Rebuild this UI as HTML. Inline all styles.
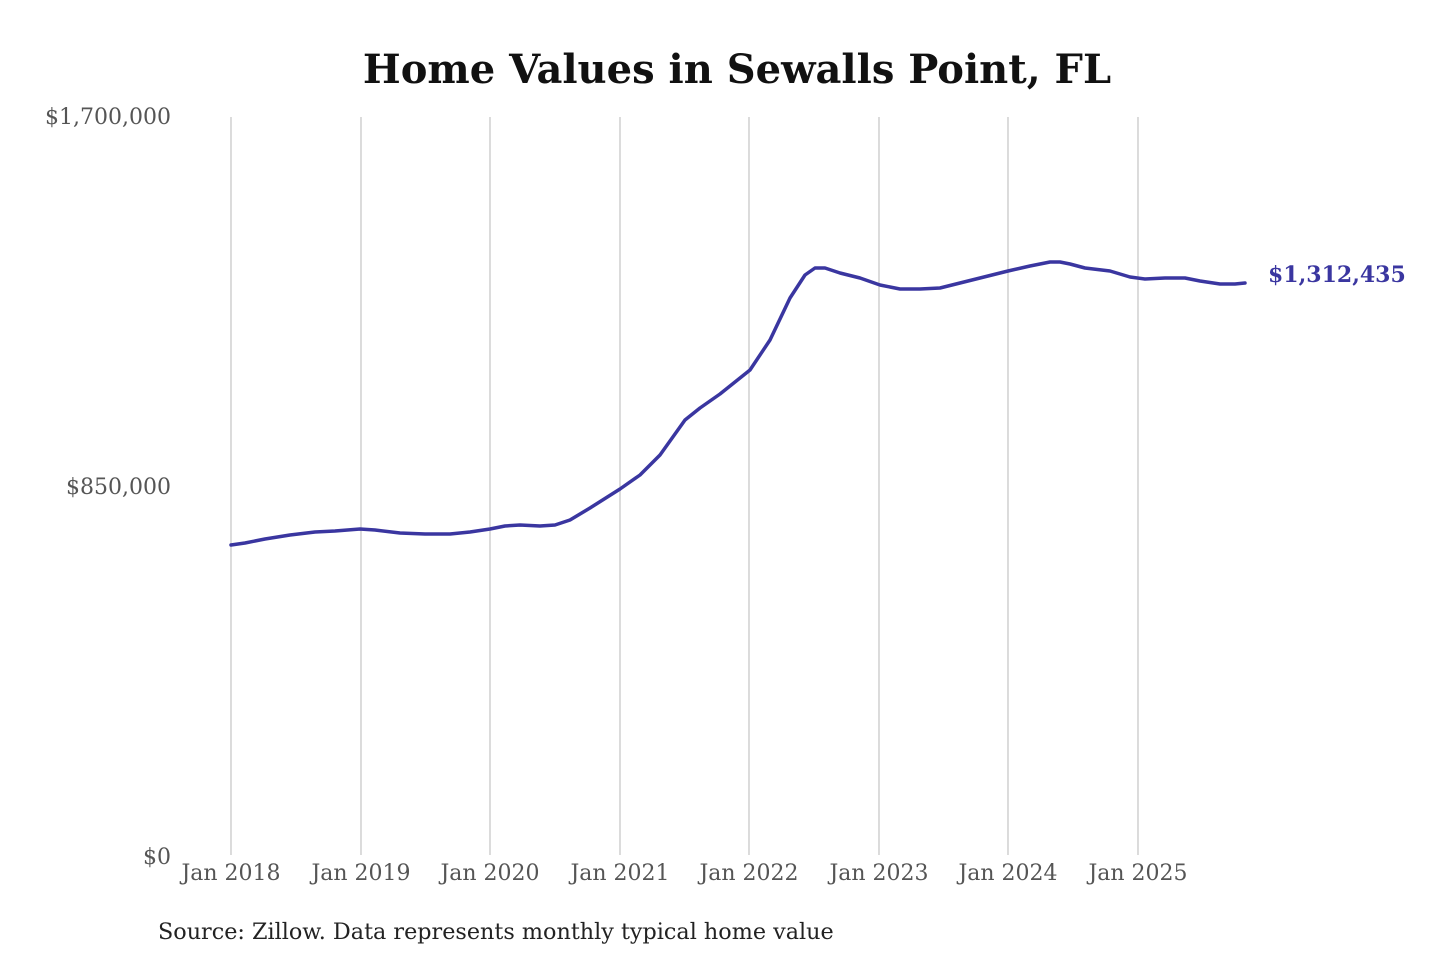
<!DOCTYPE html>
<html><head><style>
html,body{margin:0;padding:0;background:#fff;}
svg{display:block;}
</style></head><body>
<svg width="1440" height="960" xmlns="http://www.w3.org/2000/svg" font-family="DejaVu Serif, Liberation Serif, serif">
<text x="737" y="83" text-anchor="middle" font-size="40" font-weight="bold" fill="#111">Home Values in Sewalls Point, FL</text>
<g stroke="#c8c8c8" stroke-width="1.3">
<line x1="231" y1="117" x2="231" y2="855"/>
<line x1="361" y1="117" x2="361" y2="855"/>
<line x1="490" y1="117" x2="490" y2="855"/>
<line x1="620" y1="117" x2="620" y2="855"/>
<line x1="749" y1="117" x2="749" y2="855"/>
<line x1="879" y1="117" x2="879" y2="855"/>
<line x1="1008" y1="117" x2="1008" y2="855"/>
<line x1="1138" y1="117" x2="1138" y2="855"/>
</g>
<g font-size="22" fill="#555" text-anchor="end">
<text x="171" y="124">$1,700,000</text>
<text x="171" y="494">$850,000</text>
<text x="171" y="864">$0</text>
</g>
<g font-size="22" fill="#555" text-anchor="middle">
<text x="231" y="880">Jan 2018</text>
<text x="361" y="880">Jan 2019</text>
<text x="490" y="880">Jan 2020</text>
<text x="620" y="880">Jan 2021</text>
<text x="749" y="880">Jan 2022</text>
<text x="879" y="880">Jan 2023</text>
<text x="1008" y="880">Jan 2024</text>
<text x="1138" y="880">Jan 2025</text>
</g>
<polyline fill="none" stroke="#3a36a0" stroke-width="3.5" stroke-linejoin="round" stroke-linecap="round" points="231,545 245,543 265,539 290,535 315,532 335,531 360,529 375,530 400,533 425,534 450,534 470,532 490,529 505,526 520,525 540,526 555,525 570,520 590,508 620,489 640,475 660,455 685,420 700,408 720,394 750,370 770,340 790,298 805,275 815,268 825,268 840,273 860,278 880,285 900,289 920,289 940,288 960,283 980,278 1008,271 1030,266 1050,262 1060,262 1070,264 1085,268 1110,271 1130,277 1145,279 1165,278 1185,278 1200,281 1220,284 1235,284 1245,283"/>
<text x="1268" y="282" font-size="22" font-weight="bold" fill="#3a36a0">$1,312,435</text>
<text x="158" y="939" font-size="22.3" fill="#222">Source: Zillow. Data represents monthly typical home value</text>
</svg>
</body></html>
